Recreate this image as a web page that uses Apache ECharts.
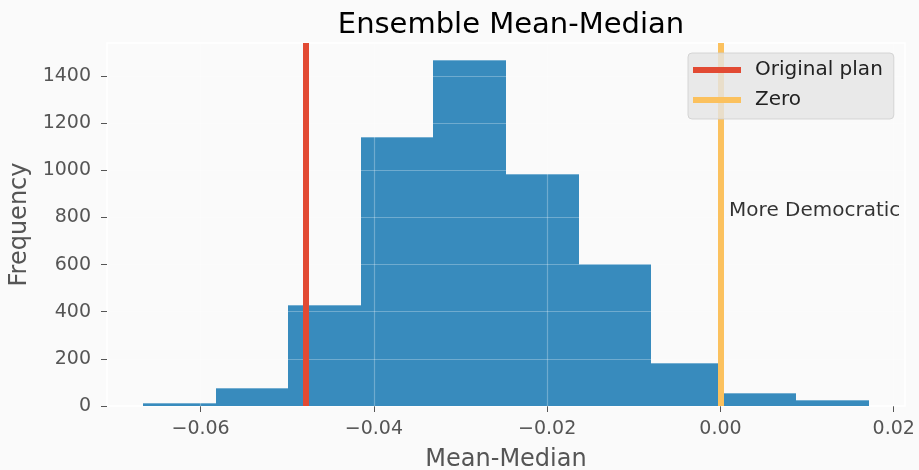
<!DOCTYPE html>
<html>
<head>
<meta charset="utf-8">
<script src="https://cdn.jsdelivr.net/npm/echarts@6/dist/echarts.min.js"></script>
<style>
  html, body { margin: 0; padding: 0; background: #fafafa; }
  #chart { width: 919px; height: 470px; }
</style>
</head>
<body>
<div id="chart"></div>
<script>
// ---- data ----
const binEdges = [-0.0666, -0.05823, -0.04986, -0.04149, -0.03312, -0.02475, -0.01638, -0.00801, 0.00036, 0.00873, 0.0171];
const counts = [12, 77, 427, 1140, 1467, 986, 604, 184, 54, 24];
const xTicks = [-0.06, -0.04, -0.02, 0.00, 0.02];
const yTicks = [0, 200, 400, 600, 800, 1000, 1200, 1400];
const xRange = [-0.0708, 0.0213];
const yRange = [0, 1540];
const originalPlan = [-0.0479];
const zeroLine = [0];
const annotationX = [0.001];
const annotationY = [800];
const annotationText = ['More Democratic'];
const titleText = 'Ensemble Mean-Median';
const xName = 'Mean-Median';
const yName = 'Frequency';
const seriesNames = ['Original plan', 'Zero'];

// ---- build ----
const FONT = 'DejaVu Sans';
const histData = counts.map((c, i) => [binEdges[i], binEdges[i + 1], c]);
const fmtX = v => (v < 0 ? '\u2212' : '') + Math.abs(v).toFixed(2);

function vLine(values, color, width) {
  return {
    silent: true,
    precision: 8,
    symbol: ['none', 'none'],
    label: { show: false },
    lineStyle: { color: color, width: width, type: 'solid' },
    emphasis: { disabled: true },
    data: values
  };
}

const chart = echarts.init(document.getElementById('chart'), null, { renderer: 'canvas' });
chart.setOption({
  animation: false,
  backgroundColor: '#fafafa',
  textStyle: { fontFamily: FONT },
  title: {
    text: titleText,
    left: 506,
    textAlign: 'center',
    top: 6,
    textStyle: { fontFamily: FONT, fontSize: 29, fontWeight: 'normal', color: '#000' }
  },
  grid: {
    left: 107, right: 14, top: 43, bottom: 64,
    containLabel: false,
    outerBoundsMode: 'none',
    show: true, backgroundColor: '#fafafa', borderColor: '#ffffff', borderWidth: 1.5
  },
  legend: {
    data: seriesNames,
    orient: 'vertical',
    left: 688, top: 53,
    padding: [5, 11, 7, 5],
    itemGap: 6,
    itemWidth: 48, itemHeight: 6,
    icon: 'rect',
    backgroundColor: 'rgba(229,229,229,0.8)',
    borderColor: 'rgba(205,205,205,0.8)',
    borderWidth: 1,
    borderRadius: 4,
    z: 10,
    textStyle: { fontFamily: FONT, fontSize: 20, color: '#222', lineHeight: 24, padding: [0, 0, 0, 9] }
  },
  xAxis: {
    type: 'value',
    min: xRange[0], max: xRange[1],
    name: xName, nameLocation: 'middle', nameGap: 42,
    nameTextStyle: { fontFamily: FONT, fontSize: 24, color: '#555' },
    axisLine: { show: false, onZero: false },
    axisTick: { show: true, length: 6, customValues: xTicks, lineStyle: { color: '#555', width: 1 } },
    axisLabel: { customValues: xTicks, margin: 14, fontFamily: FONT, fontSize: 19, color: '#555', formatter: fmtX },
    splitLine: { show: false }
  },
  yAxis: {
    type: 'value',
    min: yRange[0], max: yRange[1],
    name: yName, nameLocation: 'middle', nameGap: 75,
    nameTextStyle: { fontFamily: FONT, fontSize: 24, color: '#555' },
    axisLine: { show: false, onZero: false },
    axisTick: { show: true, length: 6, customValues: yTicks, lineStyle: { color: '#555', width: 1 } },
    axisLabel: { customValues: yTicks, margin: 16, fontFamily: FONT, fontSize: 19, color: '#555', formatter: v => String(v) },
    splitLine: { show: false }
  },
  series: [
    {
      type: 'custom',
      name: 'hist',
      z: 2,
      silent: true,
      data: histData,
      encode: { x: [0, 1], y: 2 },
      renderItem: function (params, api) {
        const p0 = api.coord([api.value(0), api.value(2)]);
        const p1 = api.coord([api.value(1), 0]);
        const x0 = Math.round(p0[0]), x1 = Math.round(p1[0]);
        const y0 = Math.round(p0[1]), y1 = Math.round(p1[1]);
        return {
          type: 'group',
          children: [
            { type: 'rect', shape: { x: x0, y: y0, width: x1 - x0, height: y1 - y0 },
              style: { fill: '#388BBD' } },
            { type: 'line', shape: { x1: x0, y1: y0 + 0.5, x2: x1, y2: y0 + 0.5 },
              style: { stroke: 'rgba(255,255,255,0.3)', lineWidth: 1 } }
          ]
        };
      }
    },
    {
      type: 'line',
      name: 'grid',
      z: 3,
      silent: true,
      data: [],
      markLine: vLine(xTicks.map(v => ({ xAxis: v })).concat(yTicks.map(v => ({ yAxis: v }))), 'rgba(255,255,255,0.28)', 1.2)
    },
    {
      type: 'line',
      name: seriesNames[0],
      z: 4,
      data: [],
      itemStyle: { color: '#E24A33' },
      lineStyle: { color: '#E24A33', width: 6 },
      markLine: vLine(originalPlan.map(v => ({ xAxis: v })), '#E24A33', 6)
    },
    {
      type: 'line',
      name: seriesNames[1],
      z: 4,
      data: [],
      itemStyle: { color: '#FBC15E' },
      lineStyle: { color: '#FBC15E', width: 6 },
      markLine: vLine(zeroLine.map(v => ({ xAxis: v })), '#FBC15E', 6)
    },
    {
      type: 'scatter',
      name: 'annotation',
      z: 5,
      silent: true,
      symbolSize: 0,
      data: annotationX.map((x, i) => ({ value: [x, annotationY[i]], text: annotationText[i] })),
      label: {
        show: true,
        position: [0, 0],
        align: 'left',
        verticalAlign: 'middle',
        offset: [0, -7],
        fontFamily: FONT, fontSize: 20, color: '#000',
        formatter: p => p.data.text
      }
    }
  ]
});
</script>
</body>
</html>
